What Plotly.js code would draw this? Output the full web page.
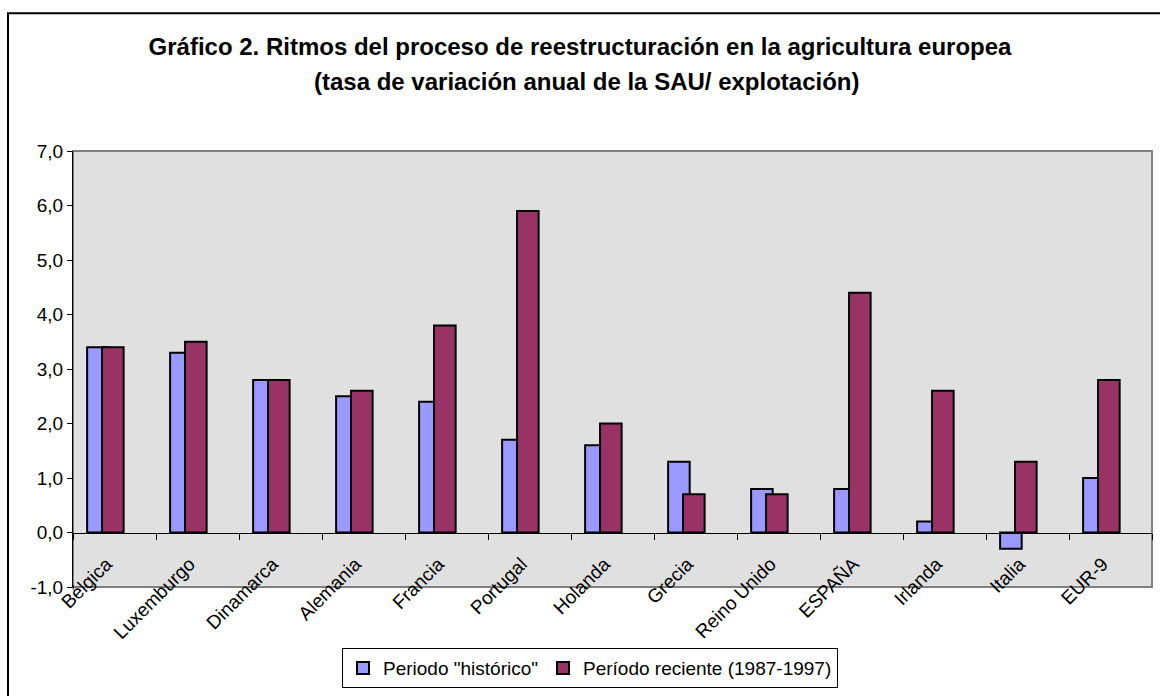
<!DOCTYPE html>
<html>
<head>
<meta charset="utf-8">
<script src="https://cdn.plot.ly/plotly-3.0.1.min.js"></script>
<style>
  html, body { margin: 0; padding: 0; background: #ffffff; }
  #chart { width: 1160px; height: 696px; }
</style>
</head>
<body>
<div id="chart"></div>
<script>
// ---- Data ----
const paises = ["Bélgica", "Luxemburgo", "Dinamarca", "Alemania", "Francia", "Portugal",
                "Holanda", "Grecia", "Reino Unido", "ESPAÑA", "Irlanda", "Italia", "EUR-9"];
const periodoHistorico = [3.4, 3.3, 2.8, 2.5, 2.4, 1.7, 1.6, 1.3, 0.8, 0.8, 0.2, -0.3, 1.0];
const periodoReciente  = [3.4, 3.5, 2.8, 2.6, 3.8, 5.9, 2.0, 0.7, 0.7, 4.4, 2.6, 1.3, 2.8];
const nombreHistorico = 'Periodo "histórico"';
const nombreReciente = 'Período reciente (1987-1997)';
const yTicks = [-1, 0, 1, 2, 3, 4, 5, 6, 7];
const yTickText = yTicks.map(v => v.toFixed(1).replace(".", ","));

const FONT = "Arial, 'Liberation Sans', sans-serif";

const traces = [
  {
    type: "bar",
    name: nombreHistorico,
    x: paises,
    y: periodoHistorico,
    offset: -0.33,
    width: 0.26,
    marker: { color: "#9999ff", line: { color: "#000000", width: 2 } },
    hoverinfo: "x+y"
  },
  {
    type: "bar",
    name: nombreReciente,
    x: paises,
    y: periodoReciente,
    offset: -0.15,
    width: 0.26,
    marker: { color: "#993366", line: { color: "#000000", width: 2 } },
    hoverinfo: "x+y"
  }
];

const layout = {
  width: 1160,
  height: 696,
  margin: { l: 73, r: 8, t: 151, b: 100, pad: 0 },
  paper_bgcolor: "#ffffff",
  plot_bgcolor: "#e0e0e0",
  font: { family: FONT, size: 19, color: "#000000" },
  separators: ",.",
  barmode: "overlay",
  showlegend: true,
  title: {
    text: "<b>Gráfico 2. Ritmos del proceso de reestructuración en la agricultura europea</b>",
    font: { family: FONT, size: 24, color: "#000000" },
    x: 0.5, xref: "container", xanchor: "center",
    y: 1 - 47 / 696, yref: "container", yanchor: "middle"
  },
  annotations: [
    {
      text: "<b>(tasa de variación anual de la SAU/ explotación)</b>",
      font: { family: FONT, size: 24, color: "#000000" },
      xref: "paper", yref: "paper",
      x: (587 - 73) / 1079, y: (595.7 - 80) / 445,
      xanchor: "center", yanchor: "middle",
      showarrow: false
    }
  ],
  xaxis: {
    type: "category",
    categoryorder: "array",
    categoryarray: paises,
    range: [-0.5, paises.length - 0.5],
    anchor: "free",
    position: 0.125,
    showline: true,
    linecolor: "#000000",
    linewidth: 1,
    tickson: "boundaries",
    ticks: "outside",
    ticklen: 6,
    tickcolor: "#000000",
    tickangle: -45,
    ticklabelstandoff: 12,
    ticklabelshift: -8,
    tickfont: { family: FONT, size: 19, color: "#000000" },
    showgrid: false,
    zeroline: false,
    fixedrange: true
  },
  xaxis2: {
    overlaying: "x",
    anchor: "free",
    position: 0.125,
    range: [-0.5, paises.length - 0.5],
    tick0: -0.5,
    dtick: 1,
    ticks: "inside",
    ticklen: 6,
    tickcolor: "#000000",
    showticklabels: false,
    showline: false,
    showgrid: false,
    zeroline: false,
    fixedrange: true
  },
  yaxis: {
    range: [-1, 7],
    tickvals: yTicks,
    ticktext: yTickText,
    ticks: "outside",
    ticklen: 5,
    tickcolor: "#000000",
    showline: true,
    linecolor: "#000000",
    linewidth: 1,
    showgrid: false,
    zeroline: false,
    tickfont: { family: FONT, size: 19, color: "#000000" },
    fixedrange: true
  },
  legend: {
    orientation: "h",
    x: (590 - 73) / 1079,
    xanchor: "center",
    y: (595.7 - 658) / 445,
    yanchor: "top",
    bordercolor: "#000000",
    borderwidth: 1,
    bgcolor: "#ffffff",
    itemwidth: 30,
    font: { family: FONT, size: 19, color: "#000000" },
    traceorder: "normal"
  },
  shapes: [
    {
      type: "rect", xref: "paper", yref: "paper",
      x0: 0, x1: 1, y0: 0, y1: 1,
      line: { color: "#808080", width: 2 },
      fillcolor: "rgba(0,0,0,0)",
      layer: "below"
    },
    {
      type: "rect", xref: "paper", yref: "paper",
      x0: (8 - 73) / 1079, x1: (1260 - 73) / 1079,
      y0: (595.7 - 780) / 445, y1: (595.7 - 10) / 445,
      line: { color: "#000000", width: 2 },
      fillcolor: "rgba(0,0,0,0)",
      layer: "above"
    }
  ]
};

Plotly.newPlot("chart", traces, layout, { displayModeBar: false, staticPlot: true });
</script>
</body>
</html>
